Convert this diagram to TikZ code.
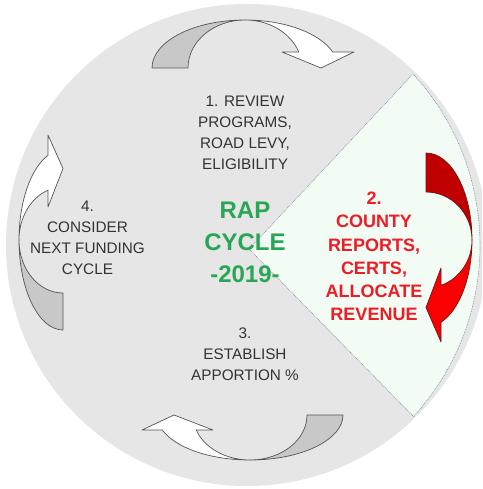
\documentclass[tikz,border=0pt]{standalone}
\usepackage{fontspec}
\setmainfont{Liberation Sans}
\definecolor{bgcircle}{RGB}{230,230,230}
\definecolor{wedgefill}{RGB}{242,252,245}
\definecolor{wedgeline}{RGB}{120,140,165}
\definecolor{arrowgrey}{RGB}{200,200,200}
\definecolor{arrowline}{RGB}{85,85,85}
\definecolor{darkredfill}{RGB}{192,0,0}
\definecolor{brightredfill}{RGB}{250,0,0}
\definecolor{redline}{RGB}{110,20,20}
\definecolor{txtgrey}{RGB}{51,51,51}
\definecolor{rapgreen}{RGB}{40,165,85}
\definecolor{stepred}{RGB}{238,28,36}
\begin{document}
\begin{tikzpicture}[x=1pt,y=1pt,
  steptext/.style={font=\fontsize{15.3}{21}\selectfont, text=txtgrey, align=center, inner sep=0pt, anchor=north},
  raptext/.style={font=\fontsize{24}{32}\selectfont\bfseries, text=rapgreen, align=center, inner sep=0pt, anchor=north},
  redtext/.style={font=\fontsize{18}{23.2}\selectfont\bfseries, text=stepred, align=center, inner sep=0pt, anchor=north},
  backpart/.style={fill=arrowgrey, draw=arrowline, line width=0.7pt, line join=round},
  frontpart/.style={fill=white, draw=arrowline, line width=0.7pt, line join=round},
  redback/.style={fill=darkredfill, draw=redline, line width=0.7pt, line join=round},
  redfront/.style={fill=brightredfill, draw=redline, line width=0.7pt, line join=round},
  wedge/.style={fill=wedgefill, draw=wedgeline, line width=0.6pt, dash pattern=on 0.8pt off 0.9pt}]
\useasboundingbox (0,0) rectangle (482,489);
\fill[white] (0,0) rectangle (482,489);
\begin{scope}
\clip (0,0) rectangle (482,489);
% main circle
\fill[bgcircle] (247,244) circle[radius=241pt];
% highlighted wedge
\path[wedge] (249,240) -- (413,415) arc[start angle=42.68, end angle=-42.53, radius=253pt] -- cycle;
\end{scope}
% top arrow
\filldraw[backpart] (152,421) arc[start angle=180,end angle=90,x radius=93pt,y radius=48pt]
  arc[start angle=90,end angle=180,x radius=57pt,y radius=48pt] -- cycle;
\filldraw[frontpart] (245,469) arc[start angle=90,end angle=19.47,x radius=93pt,y radius=48pt]
  -- (354,437) -- (321,421) -- (282,437) -- (298.74,437)
  arc[start angle=19.47,end angle=90,x radius=57pt,y radius=48pt] -- cycle;
% bottom arrow
\filldraw[backpart] (343,74) arc[start angle=0,end angle=-90,x radius=93pt,y radius=45pt]
  arc[start angle=-90,end angle=0,x radius=57pt,y radius=45pt] -- cycle;
\filldraw[frontpart] (250,29) arc[start angle=-90,end angle=-160.53,x radius=93pt,y radius=45pt]
  -- (142,59) -- (174,74) -- (213,59) -- (196.26,59)
  arc[start angle=-160.53,end angle=-90,x radius=57pt,y radius=45pt] -- cycle;
% left arrow
\filldraw[backpart] (63,159) arc[start angle=270,end angle=180,x radius=44pt,y radius=90pt]
  arc[start angle=180,end angle=270,x radius=44pt,y radius=53pt] -- cycle;
\filldraw[frontpart] (19,249) arc[start angle=180,end angle=109.93,x radius=44pt,y radius=90pt]
  -- (48,354) -- (63,320.5) -- (48,282) -- (48,298.8)
  arc[start angle=109.93,end angle=180,x radius=44pt,y radius=53pt] -- cycle;
% right red arrow
\filldraw[redback] (426,336) arc[start angle=90,end angle=0,x radius=46pt,y radius=87pt]
  arc[start angle=0,end angle=90,x radius=46pt,y radius=48pt] -- cycle;
\filldraw[redfront] (472,249) arc[start angle=0,end angle=-70.97,x radius=46pt,y radius=87pt]
  -- (441,147) -- (426,181.5) -- (441,221) -- (441,203.6)
  arc[start angle=-70.97,end angle=0,x radius=46pt,y radius=48pt] -- cycle;
% texts
\node[steptext] (s1) at (245,393.7) {1. REVIEW\\PROGRAMS,\\ROAD LEVY,\\ELIGIBILITY};
\node[steptext] (s4) at (87.5,288.7) {4.\\CONSIDER\\NEXT FUNDING\\CYCLE};
\node[steptext] (s3) at (245,161.7) {3.\\ESTABLISH\\APPORTION \%};
\node[raptext] (rap) at (245,287.2) {RAP\\CYCLE\\-2019-};
\node[redtext] (s2) at (374,297) {2.\\COUNTY\\REPORTS,\\CERTS,\\ALLOCATE\\REVENUE};
\end{tikzpicture}
\end{document}
